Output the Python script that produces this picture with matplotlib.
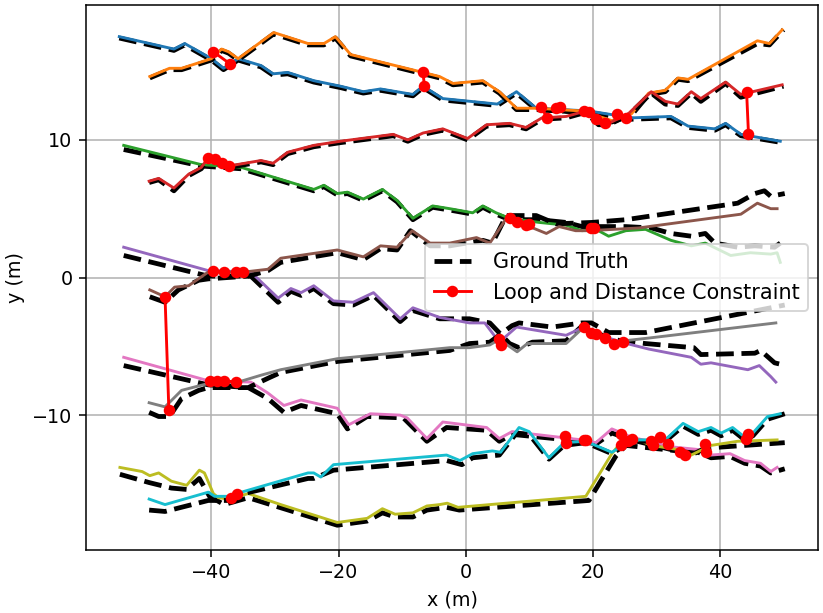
import matplotlib
matplotlib.use("Agg")
import matplotlib.pyplot as plt
from matplotlib.lines import Line2D

# estimated trajectories (x, y in metres) and their ground truth
blue_x = [-54.5, -45.9, -44.2, -40.0, -38.1, -35.8, -32.2, -30.3, -28.0, -23.9, -19.7, -16.1, -13.4, -8.3, -6.7, -3.6, 5.0, 8.0, 11.1, 19.4, 26.1, 32.3, 35.0, 39.2, 40.9, 43.3, 49.5]
blue_y = [17.5, 16.6, 17.0, 15.9, 15.2, 15.9, 15.4, 14.8, 14.9, 14.3, 13.9, 13.5, 13.7, 13.3, 13.9, 13.0, 12.6, 13.5, 12.3, 12.1, 11.6, 11.7, 11.0, 10.8, 11.2, 10.4, 9.9]
blue_gt_x = [-54.5, -45.9, -44.2, -40.0, -38.1, -35.8, -32.2, -30.3, -28.0, -23.9, -19.7, -16.1, -13.4, -8.3, -6.7, -3.6, 5.0, 8.0, 11.1, 19.4, 26.1, 32.3, 35.0, 39.2, 40.9, 43.3, 49.8]
blue_gt_y = [17.4, 16.5, 16.9, 15.8, 15.1, 15.8, 15.3, 14.7, 14.8, 14.2, 13.8, 13.4, 13.6, 13.2, 13.8, 12.9, 12.5, 13.4, 12.2, 12.0, 11.5, 11.6, 10.9, 10.7, 11.1, 10.3, 9.8]

orange_x = [-49.7, -46.6, -44.7, -40.0, -38.4, -37.3, -35.8, -30.2, -24.8, -22.3, -20.5, -18.1, -6.7, -4.1, -2.0, 2.7, 5.3, 8.0, 11.1, 18.3, 23.0, 26.1, 28.8, 31.4, 33.4, 35.0, 45.9, 47.8, 49.8]
orange_y = [14.6, 15.2, 15.2, 15.9, 16.6, 16.4, 15.9, 17.8, 17.0, 17.0, 17.5, 16.2, 14.9, 14.6, 14.1, 14.3, 13.5, 12.3, 12.3, 12.1, 11.4, 11.9, 13.4, 13.6, 14.5, 14.4, 17.2, 17.0, 18.0]
orange_gt_x = [-49.7, -46.6, -44.7, -40.0, -38.4, -37.3, -35.8, -30.2, -24.8, -22.3, -20.5, -18.1, -6.7, -4.1, -2.0, 2.7, 5.3, 8.0, 11.1, 18.3, 23.0, 26.1, 28.8, 31.4, 33.4, 35.0, 45.9, 47.8, 50.0]
orange_gt_y = [14.5, 15.1, 15.1, 15.8, 16.5, 16.3, 15.8, 17.7, 16.9, 16.9, 17.4, 16.1, 14.8, 14.5, 14.0, 14.2, 13.4, 12.2, 12.2, 12.0, 11.3, 11.8, 13.3, 13.5, 14.4, 14.3, 17.0, 16.9, 18.0]

red_x = [-49.8, -48.3, -45.9, -43.6, -41.6, -40.5, -37.3, -32.2, -30.3, -28.0, -23.9, -19.7, -11.4, -9.1, -6.7, -3.6, 0.3, 3.3, 6.9, 9.5, 12.0, 15.8, 18.9, 20.9, 22.5, 25.6, 29.2, 31.4, 33.4, 35.5, 37.0, 40.9, 43.3, 49.8]
red_y = [7.0, 7.2, 6.5, 7.5, 8.0, 8.7, 8.1, 8.5, 8.3, 9.1, 9.6, 9.9, 10.4, 10.0, 10.5, 10.8, 10.1, 11.1, 11.2, 10.9, 11.6, 11.7, 12.1, 11.2, 11.2, 11.9, 13.5, 12.8, 12.6, 13.5, 13.0, 14.2, 13.3, 14.0]
red_gt_x = [-49.8, -48.3, -45.9, -43.6, -41.6, -40.5, -37.3, -32.2, -30.3, -28.0, -23.9, -19.7, -11.4, -9.1, -6.7, -3.6, 0.3, 3.3, 6.9, 9.5, 12.0, 15.8, 18.9, 20.9, 22.5, 25.6, 29.2, 31.4, 33.4, 35.5, 37.0, 40.9, 43.3, 50.0]
red_gt_y = [6.9, 7.1, 6.3, 7.4, 7.9, 8.6, 8.0, 8.4, 8.2, 9.0, 9.5, 9.8, 10.3, 9.9, 10.4, 10.7, 10.0, 11.0, 11.1, 10.8, 11.5, 11.6, 12.0, 11.1, 11.1, 11.8, 13.4, 12.6, 12.5, 13.4, 12.8, 14.1, 13.1, 13.9]

green_x = [-53.8, -41.6, -35.3, -23.9, -22.3, -20.2, -18.6, -16.1, -13.1, -10.8, -8.3, -5.2, -2.5, 1.1, 2.7, 4.8, 6.9, 11.6, 15.8, 18.3, 20.5, 22.5, 25.2, 28.3, 32.3, 35.5, 37.7, 41.7, 44.8, 48.0, 49.0, 49.5]
green_y = [9.6, 8.2, 8.0, 6.4, 6.7, 6.1, 6.2, 5.7, 6.4, 5.6, 4.3, 5.2, 5.0, 4.7, 5.2, 4.7, 4.3, 4.0, 3.8, 3.4, 3.5, 3.0, 3.4, 3.5, 2.7, 2.3, 2.5, 1.6, 1.8, 1.7, 1.8, 1.1]
green_gt_x = [-53.8, -41.6, -35.3, -23.9, -22.3, -20.2, -18.6, -16.1, -13.1, -10.8, -8.3, -5.2, -2.5, 1.1, 2.7, 4.8, 6.9, 11.6, 15.8, 18.3, 20.5, 25.2, 29.2, 32.3, 35.5, 37.7, 39.2, 42.8, 45.5, 48.6, 49.5]
green_gt_y = [9.3, 8.1, 7.9, 6.3, 6.6, 6.0, 6.1, 5.6, 6.3, 5.5, 4.2, 5.1, 4.9, 4.6, 5.1, 4.6, 4.2, 4.2, 4.0, 3.7, 3.7, 3.7, 3.6, 3.2, 3.0, 3.2, 2.5, 2.2, 2.3, 2.2, 2.5]

purple_x = [-53.8, -40.5, -33.8, -29.5, -27.5, -25.9, -23.9, -20.8, -17.7, -14.5, -10.3, -8.3, -4.1, 0.6, 3.0, 5.3, 8.0, 15.8, 18.6, 20.5, 24.5, 28.8, 35.5, 37.0, 38.6, 44.4, 46.2, 48.0, 48.8]
purple_y = [2.2, 0.5, 0.4, -1.5, -0.8, -1.1, -0.6, -1.7, -1.8, -1.1, -3.0, -2.2, -2.9, -3.3, -3.3, -4.7, -3.6, -4.2, -3.6, -4.1, -4.7, -5.2, -5.8, -6.3, -6.2, -6.7, -6.4, -7.2, -7.6]
purple_gt_x = [-53.8, -40.5, -33.8, -29.5, -27.5, -25.9, -23.9, -20.8, -17.7, -14.5, -10.3, -8.3, -4.1, 0.6, 3.8, 6.9, 8.4, 10.5, 15.8, 18.6, 20.5, 23.0, 28.3, 35.9, 37.0, 45.5, 46.4, 48.6, 49.5]
purple_gt_y = [1.6, 0.1, 0.1, -1.8, -1.0, -1.3, -0.8, -1.9, -2.0, -1.3, -3.2, -2.4, -3.0, -3.0, -3.3, -4.8, -5.1, -4.7, -4.6, -3.4, -4.0, -4.5, -4.8, -5.1, -5.6, -5.5, -5.3, -6.2, -6.3]

brown_x = [-49.7, -47.3, -45.8, -43.6, -40.5, -34.8, -31.1, -29.1, -20.2, -16.1, -13.4, -10.8, -8.4, -5.6, -2.5, 1.7, 3.8, 6.4, 9.5, 12.7, 14.7, 17.3, 19.4, 27.2, 43.3, 45.9, 48.0, 49.0]
brown_y = [-0.9, -1.4, -0.7, -0.6, 0.4, 0.4, 0.6, 1.4, 2.0, 1.5, 2.3, 2.2, 3.4, 2.5, 2.5, 2.9, 2.5, 4.3, 3.8, 3.2, 3.7, 3.4, 3.4, 3.6, 4.6, 5.4, 5.0, 5.0]
brown_gt_x = [-49.7, -47.3, -45.2, -42.0, -40.5, -34.2, -31.1, -29.1, -20.2, -16.1, -13.4, -10.8, -8.7, -5.6, -2.5, 2.7, 4.2, 6.4, 11.1, 14.2, 19.8, 25.2, 42.8, 45.5, 47.0, 48.0, 50.2]
brown_gt_y = [-1.4, -1.8, -0.9, -0.2, -0.1, 0.1, 0.5, 1.1, 1.8, 1.3, 2.1, 2.0, 3.4, 2.3, 2.3, 2.7, 2.5, 4.5, 4.5, 3.9, 4.0, 4.2, 5.4, 6.1, 6.3, 5.9, 6.1]

pink_x = [-53.8, -40.5, -33.8, -31.1, -28.6, -25.9, -20.2, -18.4, -15.0, -10.3, -9.2, -6.1, -3.6, 3.3, 5.3, 7.3, 18.3, 20.5, 23.0, 26.1, 32.3, 36.6, 38.6, 41.6, 43.9, 46.4, 48.0, 49.0]
pink_y = [-5.8, -7.5, -7.6, -8.4, -9.3, -8.9, -9.5, -10.7, -9.9, -10.0, -10.2, -11.7, -10.5, -10.9, -11.7, -11.2, -11.8, -12.0, -11.0, -11.6, -12.3, -12.5, -12.9, -12.8, -13.3, -13.5, -14.1, -13.8]
pink_gt_x = [-53.8, -40.5, -34.2, -31.1, -28.6, -25.9, -20.2, -18.6, -15.5, -9.8, -6.1, -3.0, 3.3, 5.3, 7.3, 18.3, 20.5, 23.0, 26.1, 32.3, 36.6, 38.6, 41.6, 43.9, 46.4, 48.0, 50.2]
pink_gt_y = [-6.4, -7.8, -8.0, -8.8, -9.8, -9.3, -9.9, -11.0, -10.1, -10.2, -11.9, -10.9, -11.1, -11.9, -11.4, -11.9, -12.1, -11.3, -11.8, -12.5, -12.7, -13.1, -13.0, -13.5, -13.7, -14.2, -13.9]

gray_x = [-49.8, -47.3, -44.7, -40.5, -35.8, -32.2, -29.1, -20.2, -2.5, 0.6, 3.8, 5.3, 8.1, 9.7, 15.8, 18.6, 20.5, 23.0, 28.8, 48.8]
gray_y = [-9.1, -9.4, -8.2, -7.7, -7.6, -7.1, -6.7, -5.9, -5.1, -5.1, -4.9, -4.5, -5.4, -4.8, -4.8, -3.6, -4.2, -4.7, -4.4, -3.3]
gray_gt_x = [-49.8, -48.3, -46.6, -44.7, -42.0, -40.5, -34.2, -31.0, -29.1, -20.2, -2.5, 0.6, 3.8, 7.3, 8.4, 13.6, 18.3, 19.8, 22.5, 28.3, 50.2]
gray_gt_y = [-9.8, -10.1, -10.1, -8.8, -8.2, -8.0, -8.0, -7.3, -6.9, -6.1, -5.3, -4.8, -4.7, -3.5, -3.3, -3.6, -3.3, -3.3, -4.0, -4.0, -2.0]

olive_x = [-54.4, -50.9, -49.7, -48.3, -46.3, -43.9, -41.9, -41.1, -39.7, -38.9, -37.3, -34.2, -29.1, -20.2, -15.5, -13.1, -11.1, -8.3, -6.1, -4.1, -2.9, -1.2, 18.9, 23.0, 24.4, 27.2, 29.2, 33.4, 35.5, 38.6, 42.8, 49.0]
olive_y = [-13.8, -14.1, -14.4, -14.2, -14.8, -15.1, -14.0, -14.2, -15.7, -16.0, -16.1, -15.7, -16.5, -17.8, -17.5, -16.8, -17.2, -17.1, -16.6, -16.5, -16.4, -16.7, -15.9, -12.8, -12.0, -11.8, -12.2, -12.5, -12.9, -12.2, -11.9, -11.8]
olive_gt_x = [-54.4, -49.8, -46.3, -43.9, -41.9, -40.3, -38.0, -34.2, -20.2, -15.5, -13.1, -11.1, -8.3, -6.1, -3.0, -1.0, 19.4, 23.6, 25.2, 33.4, 35.5, 37.7, 50.2]
olive_gt_y = [-14.3, -14.9, -15.3, -15.4, -14.6, -15.9, -16.5, -16.0, -18.0, -17.7, -17.1, -17.4, -17.4, -16.9, -16.7, -16.9, -16.2, -13.0, -12.2, -12.6, -12.9, -12.4, -12.0]

cyan_x = [-49.8, -47.3, -40.5, -39.5, -37.3, -35.3, -24.8, -23.9, -22.8, -20.8, -3.0, -0.9, 1.1, 4.2, 5.5, 8.4, 10.0, 13.1, 15.5, 18.9, 23.0, 26.1, 31.4, 34.2, 36.6, 38.6, 40.2, 42.0, 43.9, 45.2, 47.5, 49.5]
cyan_y = [-16.1, -16.5, -15.6, -15.9, -15.9, -15.6, -14.2, -14.2, -14.5, -13.6, -12.9, -13.3, -12.8, -12.6, -12.7, -10.9, -11.2, -13.1, -12.0, -11.9, -12.7, -11.8, -11.8, -10.6, -11.2, -10.9, -11.3, -10.9, -11.6, -11.3, -10.1, -9.9]
cyan_gt_x = [-49.8, -47.3, -40.5, -37.3, -35.8, -24.8, -23.9, -20.8, -3.0, -0.6, 1.1, 5.3, 8.0, 10.0, 13.1, 15.5, 18.9, 23.0, 26.1, 31.4, 34.2, 36.6, 38.6, 40.2, 42.0, 43.9, 45.2, 47.5, 50.2]
cyan_gt_y = [-16.9, -17.0, -16.2, -16.2, -15.8, -14.6, -14.6, -14.0, -13.3, -13.6, -13.1, -12.9, -11.3, -11.4, -13.2, -12.2, -12.0, -12.8, -11.9, -11.9, -10.8, -11.4, -11.1, -11.5, -11.1, -11.8, -11.5, -10.3, -9.9]

# loop / distance constraints: start and end points
loop_x1 = [-39.7, -6.7, 11.9, 14.2, 18.6, 20.5, 23.8, 44.2, -40.5, -38.4, -39.7, -36.1, -47.3, -40.3, -38.1, 6.9, 9.5, 19.7, 5.3, 18.6, 20.5, 23.3, -36.9, 15.6, 18.6, 24.5, 25.5, 29.2, 30.6, 33.7, 37.7, 44.1]
loop_y1 = [16.4, 14.9, 12.4, 12.3, 12.1, 11.5, 11.9, 13.5, 8.7, 8.3, 0.5, 0.4, -1.4, -7.5, -7.5, 4.3, 3.8, 3.6, -4.5, -3.6, -4.1, -4.8, -16.0, -11.5, -11.8, -11.4, -11.9, -11.9, -11.6, -12.7, -12.1, -11.7]
loop_x2 = [-37.0, -6.5, 12.8, 14.8, 19.4, 22.0, 25.3, 44.5, -39.5, -37.3, -38.0, -35.0, -46.7, -39.2, -36.1, 8.1, 10.0, 20.2, 5.5, 19.7, 22.0, 24.7, -35.9, 15.8, 18.9, 24.4, 26.1, 29.5, 31.9, 34.5, 37.8, 44.5]
loop_y2 = [15.5, 13.9, 11.6, 12.4, 12.0, 11.2, 11.6, 10.4, 8.6, 8.1, 0.4, 0.4, -9.6, -7.5, -7.6, 4.0, 3.9, 3.6, -4.9, -4.0, -4.4, -4.7, -15.7, -12.0, -11.8, -12.2, -11.7, -12.2, -12.1, -12.9, -12.7, -11.4]

trajectories = [
    (blue_x, blue_y, blue_gt_x, blue_gt_y),
    (orange_x, orange_y, orange_gt_x, orange_gt_y),
    (green_x, green_y, green_gt_x, green_gt_y),
    (red_x, red_y, red_gt_x, red_gt_y),
    (purple_x, purple_y, purple_gt_x, purple_gt_y),
    (brown_x, brown_y, brown_gt_x, brown_gt_y),
    (pink_x, pink_y, pink_gt_x, pink_gt_y),
    (gray_x, gray_y, gray_gt_x, gray_gt_y),
    (olive_x, olive_y, olive_gt_x, olive_gt_y),
    (cyan_x, cyan_y, cyan_gt_x, cyan_gt_y),
]

def main():
    dpi = 138
    fig = plt.figure(figsize=(823.0 / dpi, 613.0 / dpi), dpi=dpi)
    ax = fig.add_axes([86.0 / 823, 63.0 / 613, 732.0 / 823, 545.0 / 613])

    for i, (x, y, gx, gy) in enumerate(trajectories):
        ax.plot(gx, gy, 'k--', lw=2.5)
        ax.plot(x, y, color='C%d' % i, lw=1.5)

    for i in range(len(loop_x1)):
        ax.plot([loop_x1[i], loop_x2[i]], [loop_y1[i], loop_y2[i]], 'r-o', lw=1.5, ms=5)

    ax.set_xticks([-40, -20, 0, 20, 40])
    ax.set_yticks([-10, 0, 10])
    ax.grid(True)
    ax.set_xlabel("x (m)")
    ax.set_ylabel("y (m)")

    handles = [Line2D([], [], color='k', ls='--', lw=2.5),
               Line2D([], [], color='r', marker='o', lw=1.5, ms=5)]
    ax.legend(handles, ["Ground Truth", "Loop and Distance Constraint"], loc='center right',
              fontsize=10.8, handlelength=1.8, handletextpad=1.05)

    fig.savefig("out.png", dpi=dpi)

if __name__ == "__main__":
    main()
